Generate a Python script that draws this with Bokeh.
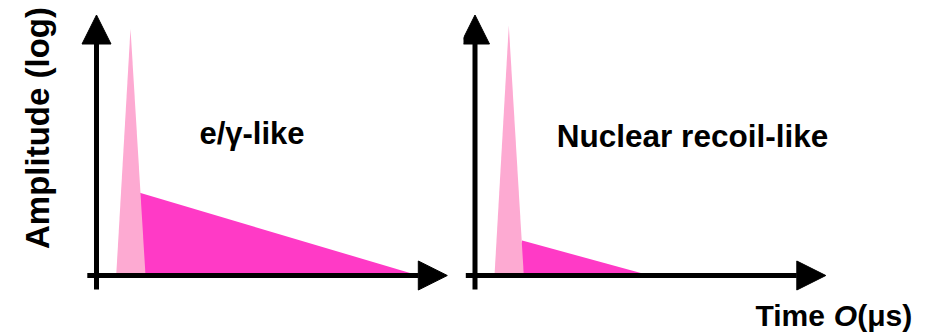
import math
from bokeh.plotting import figure
from bokeh.layouts import row
from bokeh.models import Range1d, Arrow, NormalHead, Label
from bokeh.embed import file_html
from bokeh.resources import INLINE

# ---- data (time in arbitrary units, amplitude in log units) ----
panels = ["e/\u03b3-like", "Nuclear recoil-like"]
prompt_start = [1.97, 1.95]
prompt_peak_t = [3.40, 3.38]
prompt_end = [4.90, 4.88]
prompt_amp = [24.7, 25.0]
tail_start_t = [4.33, 4.72]
tail_start_amp = [8.27, 3.50]
tail_end_t = [32.2, 17.5]

y_label = "Amplitude (log)"
x_label = ["Time ", "O", "(\u03bcs)"]

LIGHT = "#FDAAD2"
DARK = "#FF3AC6"
FONT = "Liberation Sans"

H = 333
Y0, Y1 = -5.8, 27.5


def make_panel(i, width, xr):
    p = figure(width=width, height=H, output_backend="svg", toolbar_location=None,
               x_axis_type=None, y_axis_type=None,
               x_range=Range1d(*xr), y_range=Range1d(Y0, Y1),
               min_border=0, min_border_left=0, min_border_right=0,
               min_border_top=0, min_border_bottom=0)
    p.outline_line_color = None
    p.grid.visible = False
    p.background_fill_color = "white"
    p.border_fill_color = "white"
    # delayed (tail) component
    p.patch([prompt_peak_t[i], tail_start_t[i], tail_end_t[i]],
            [0, tail_start_amp[i], 0], fill_color=DARK, line_color=None)
    # prompt spike
    p.patch([prompt_start[i], prompt_peak_t[i], prompt_end[i]],
            [0, prompt_amp[i], 0], fill_color=LIGHT, line_color=None)
    # axes as arrows
    p.add_layout(Arrow(end=NormalHead(size=29, fill_color="black", line_color="black", line_width=1),
                       x_start=-0.92, y_start=0, x_end=35.08, y_end=0,
                       line_width=5, line_color="black"))
    p.add_layout(Arrow(end=NormalHead(size=29, fill_color="black", line_color="black", line_width=1),
                       x_start=0, y_start=-1.4, x_end=0, y_end=26.05,
                       line_width=5, line_color="black"))
    return p


p1 = make_panel(0, 463, (-9.6, 36.7))
p2 = make_panel(1, 468, (-1.15, 45.65))

p1.add_layout(Label(x=15.55, y=14.25, text=panels[0], text_font=FONT, text_font_style="bold",
                    text_font_size="31px", text_align="center", text_baseline="alphabetic",
                    text_color="black"))
p2.add_layout(Label(x=21.75, y=13.95, text=panels[1], text_font=FONT, text_font_style="bold",
                    text_font_size="31.5px", text_align="center", text_baseline="alphabetic",
                    text_color="black"))
p1.add_layout(Label(x=-5.87, y=14.75, text=y_label, angle=math.pi / 2, text_font=FONT,
                    text_font_style="bold", text_font_size="33px", text_align="center",
                    text_baseline="alphabetic", text_color="black"))

xl_pos = [28.05, 35.88, 38.22]
xl_style = ["bold", "bold italic", "bold"]
for t, xp, st in zip(x_label, xl_pos, xl_style):
    p2.add_layout(Label(x=xp, y=-4.0, text=t, text_font=FONT, text_font_style=st,
                        text_font_size="30px", text_align="left", text_baseline="alphabetic",
                        text_color="black"))

layout = row(p1, p2, spacing=0)
open("out.html", "w").write(file_html(layout, INLINE))
